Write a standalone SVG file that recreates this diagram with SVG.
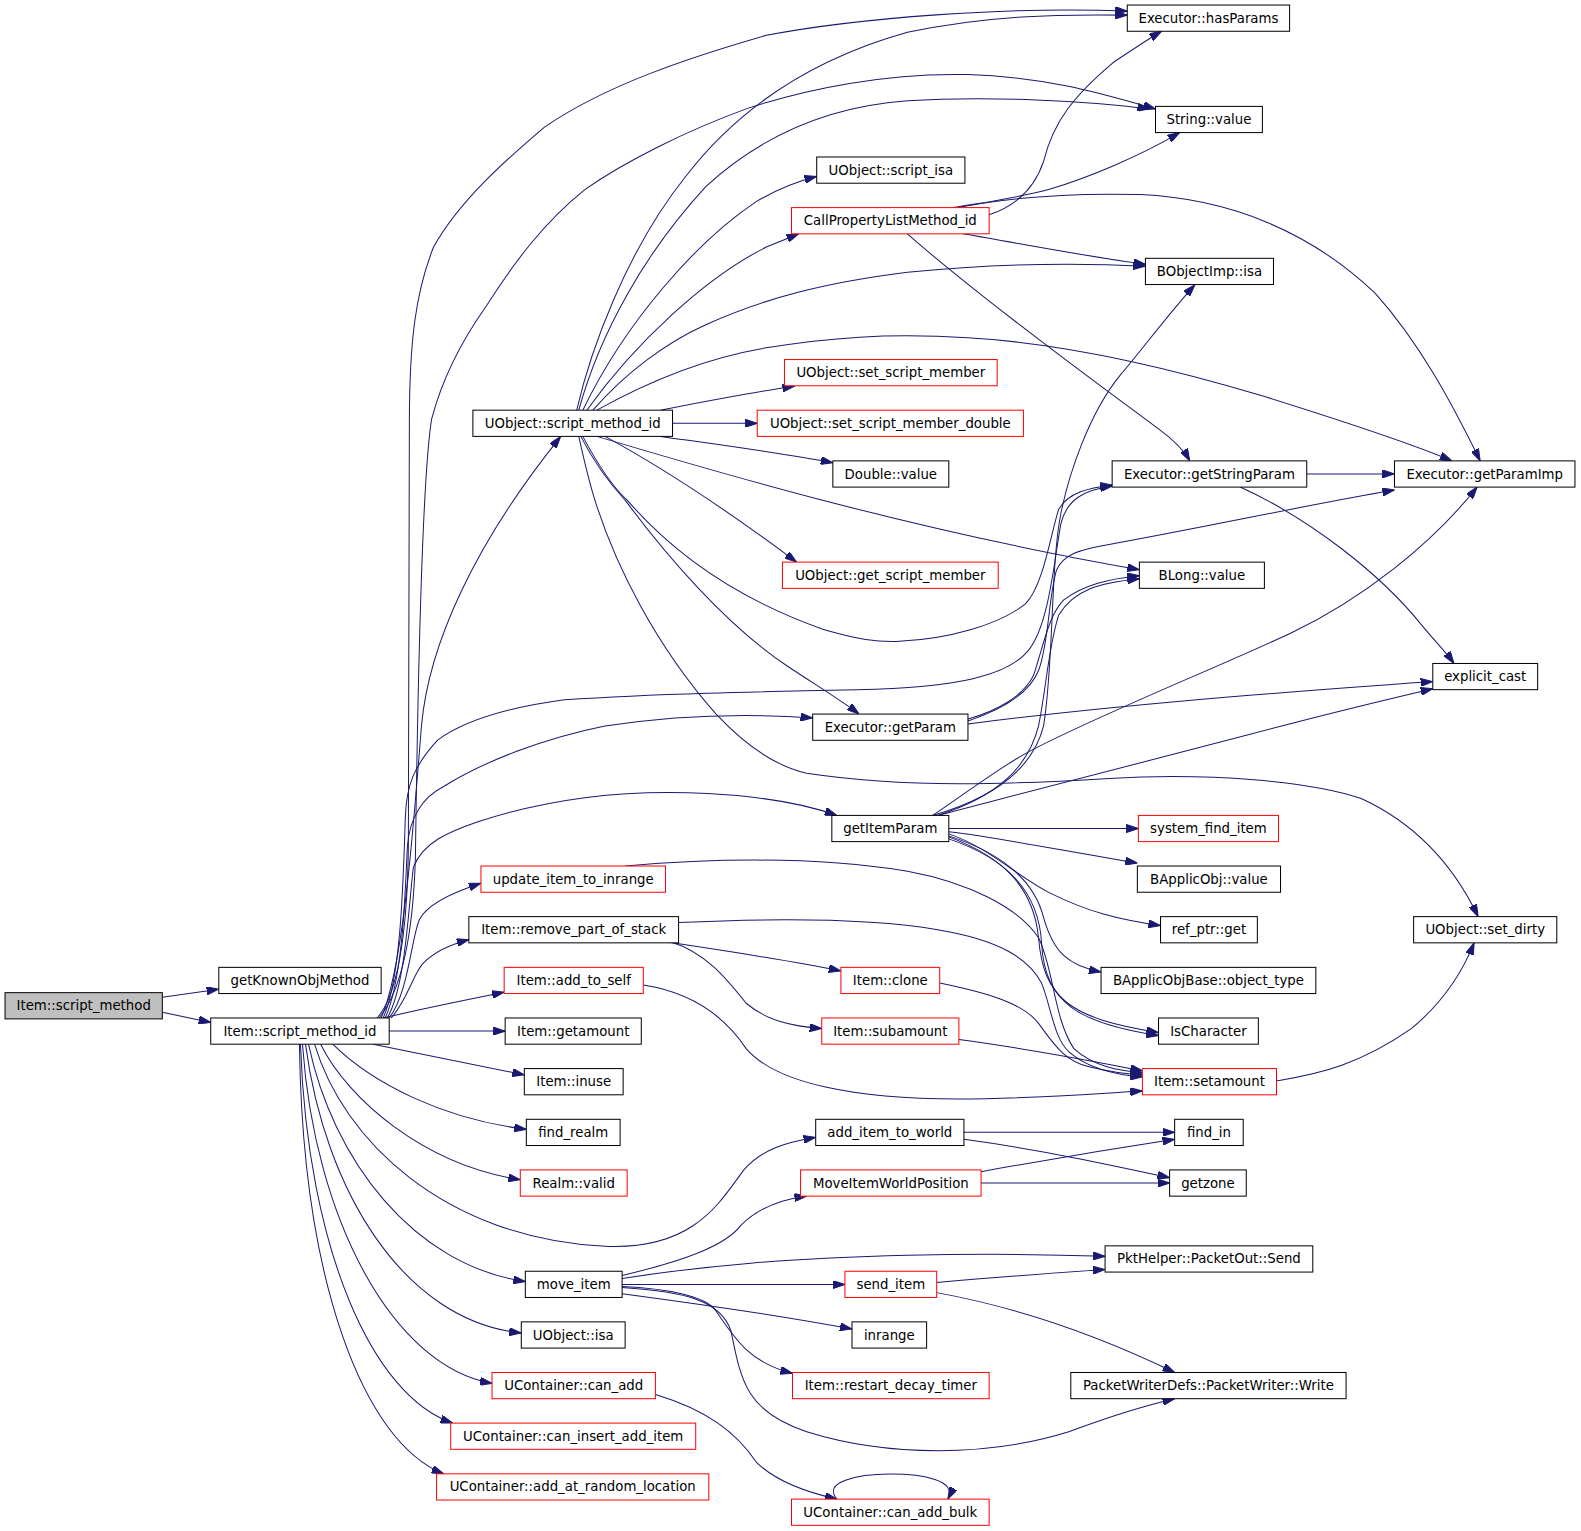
<svg xmlns="http://www.w3.org/2000/svg" width="1581" height="1531" viewBox="0 0 1581 1531">
<style>
.n rect{fill:#fff;stroke:#000;stroke-width:1}
.n.r rect{stroke:#f00}
.n.g rect{fill:#bfbfbf}
.n text{font-family:"DejaVu Sans","Liberation Sans",sans-serif;font-size:13.2px;text-anchor:middle;fill:#000}
#edges path{fill:none;stroke:#191970;stroke-width:1;marker-end:url(#ah)}
</style>
<defs>
<marker id="ah" markerWidth="12" markerHeight="8" refX="12" refY="4" orient="auto" markerUnits="userSpaceOnUse"><path d="M0,0 L12,4 L0,8 z" fill="#191970" stroke="#191970" stroke-width="1"/></marker>
</defs>
<rect x="0" y="0" width="1581" height="1531" fill="#fff"/>
<g transform="scale(1.00829)">
<g id="edges">
<path d="M161,989 L217,981"/>
<path d="M161,1004 L209,1014"/>
<path d="M386,1022.6 L501,1022.6"/>
<path d="M380,1009.6 C420,1000 460,992 500,984"/>
<path d="M370,1035.6 C420,1046 470,1056 520,1066"/>
<path d="M330,1035.6 C370,1075 440,1110 522,1120"/>
<path d="M318,1035.6 C345,1090 420,1155 516,1170"/>
<path d="M312,1035.6 C340,1130 440,1228 600,1236 C690,1240 715,1190 738,1160 C755,1140 780,1133 809,1128"/>
<path d="M306,1035.6 C330,1150 410,1255 521,1271"/>
<path d="M303,1035.6 C322,1180 400,1310 517,1322"/>
<path d="M300,1035.6 C312,1210 390,1355 488,1372"/>
<path d="M298,1035.6 C305,1240 370,1385 449,1411.4"/>
<path d="M297,1035.6 C300,1270 360,1430 440,1461.7"/>
<path d="M388,1009.6 C405,990 410,965 420,955 C430,945 445,937 465,932"/>
<path d="M386,1009.6 C405,985 408,930 416,912 C422,900 440,888 477,876"/>
<path d="M384,1009.6 C402,980 405,900 410,860 C420,835 445,825 474,815 C550,790 630,783 702,787 C760,790 800,798 830,808.7"/>
<path d="M382,1009.6 C400,970 402,880 404,840 C406,810 420,790 440,780 C480,755 540,732 600,720 C680,708 750,708 806,712"/>
<path d="M380,1009.6 C398,970 400,870 402,810 C403,780 410,760 434,734 C460,715 500,702 560,694 C650,688 750,686 850,684 C950,682 1000,670 1020,645 C1040,620 1045,560 1052,520 C1058,495 1075,486 1103,482"/>
<path d="M378,1009.6 C400,960 410,820 418,720 C425,640 470,540 556,433"/>
<path d="M376,1009.6 C400,980 410,920 412,850 C414,700 418,480 428,416 C440,370 460,335 482,304 C510,260 540,220 580,188 C620,160 680,130 740,108 C800,88 880,72 960,74 C1040,76 1100,95 1146,108"/>
<path d="M374,1009.6 C396,985 404,920 405,840 L406,420 C406,340 412,290 430,245 C455,200 500,160 540,126 C600,85 680,58 760,35 C850,18 1000,6 1118,11"/>
<path d="M572,406.8 C585,350 620,250 680,175 C730,110 800,60 900,32 C980,15 1050,14 1118,15"/>
<path d="M574,406.8 C595,330 640,250 700,185 C760,130 830,105 900,100 C980,95 1080,100 1140,108"/>
<path d="M578,406.8 C620,320 690,240 750,200 C770,188 790,180 810,175"/>
<path d="M582,406.8 C630,340 700,275 760,245 C772,240 782,236 792,232"/>
<path d="M588,406.8 C620,370 660,340 700,322 C760,295 820,280 900,270 C980,262 1060,260 1136,264"/>
<path d="M592,406.8 C640,380 700,355 760,345 C820,335 880,330 960,335 C1050,340 1150,362 1250,392 C1330,417 1400,440 1440,457.1"/>
<path d="M655,406.8 C700,398 740,390 788,383"/>
<path d="M667,419.8 L751,419.8"/>
<path d="M655,432.8 C720,442 780,450 826,459"/>
<path d="M600,432.8 C650,460 720,505 790,557.5"/>
<path d="M576,432.8 C590,460 605,480 620,496 C660,550 720,620 780,660 C810,680 835,695 852,708.2"/>
<path d="M578,432.8 C595,465 610,485 622,496 C660,540 720,590 816,624 C850,634 870,637 892,636 C940,634 990,620 1017,599 C1035,580 1042,530 1050,505 C1060,488 1080,484 1103,481"/>
<path d="M592,432.8 C700,465 900,525 1130,565"/>
<path d="M574,432.8 C580,460 585,480 590,496 C610,560 650,640 710,708 C740,740 770,760 800,767 C900,782 1000,778 1100,772 C1200,766 1300,775 1350,792 C1400,815 1440,855 1466,909.1"/>
<path d="M981,213 C1005,205 1025,190 1035,160 C1045,120 1065,95 1104,62 C1125,48 1140,38 1152,31"/>
<path d="M945,205.9 C980,200 1010,196 1040,188 C1080,176 1130,155 1170,131.5"/>
<path d="M950,205.9 C1000,196 1060,191 1131,193 C1220,197 1300,230 1364,291 C1408,340 1440,400 1468,457.1"/>
<path d="M955,231.9 C1020,243 1080,255 1136,262"/>
<path d="M900,231.9 C960,285 1060,360 1150,426 C1165,437 1175,448 1180,457.1"/>
<path d="M960,718 C1100,700 1250,688 1421,676"/>
<path d="M960,713 C990,705 1015,690 1025,670 C1035,640 1040,610 1055,595 C1075,580 1100,574 1130,571"/>
<path d="M960,715 C990,705 1020,690 1030,665 C1040,640 1040,590 1048,565 C1055,550 1070,545 1100,540 C1200,522 1300,500 1383,486"/>
<path d="M925,808.7 C960,785 1000,755 1031,740 C1100,705 1200,665 1280,628 C1350,595 1420,540 1465,483"/>
<path d="M930,808.7 C1000,790 1100,765 1237,729 C1300,712 1370,695 1421,683"/>
<path d="M941,821.7 L1129,821.7"/>
<path d="M941,825 C1000,832 1060,845 1128,856"/>
<path d="M941,827 C980,840 1010,870 1040,885 C1080,905 1110,912 1151,918"/>
<path d="M941,829 C990,845 1025,870 1035,910 C1045,945 1060,958 1092,964"/>
<path d="M941,830 C995,850 1025,880 1030,930 C1035,990 1060,1010 1149,1024"/>
<path d="M941,832 C1000,852 1030,885 1033,935 C1036,995 1070,1015 1149,1027"/>
<path d="M930,808.7 C990,790 1020,760 1030,720 C1038,680 1040,640 1050,610 C1065,585 1090,578 1130,574"/>
<path d="M925,808.7 C990,790 1025,760 1035,720 C1045,660 1042,560 1052,510 C1060,470 1080,410 1111,372 C1130,350 1160,310 1185,282.5"/>
<path d="M1296,470 L1383,470"/>
<path d="M1230,483 C1300,515 1370,570 1410,620 C1425,638 1435,648 1442,658"/>
<path d="M620,858.9 C700,852 800,848 900,864 C960,875 1010,900 1030,930 C1045,960 1045,1010 1065,1040 C1085,1058 1110,1062 1133,1064"/>
<path d="M673,915 C780,910 870,912 930,922 C990,932 1020,950 1033,975 C1043,1000 1045,1030 1061,1044 C1080,1060 1105,1066 1133,1068"/>
<path d="M660,934.1 C720,943 780,952 834,963"/>
<path d="M665,934.1 C700,945 720,970 740,995 C760,1012 785,1018 815,1020"/>
<path d="M638,977 C690,985 720,1010 740,1040 C770,1075 850,1090 950,1090 C1020,1090 1080,1085 1133,1082"/>
<path d="M932,975 C980,985 1015,995 1030,1015 C1045,1035 1055,1052 1080,1058 C1100,1063 1115,1065 1133,1066"/>
<path d="M951,1031 C1020,1040 1080,1052 1133,1062"/>
<path d="M1266,1072 C1310,1065 1350,1055 1400,1020 C1430,995 1450,965 1462,935.1"/>
<path d="M956,1123 L1165,1123"/>
<path d="M956,1130 C1030,1140 1100,1155 1160,1168"/>
<path d="M973,1162 C1040,1150 1100,1140 1165,1130"/>
<path d="M973,1173.3 L1160,1173.3"/>
<path d="M617,1265 C680,1250 720,1235 735,1215 C750,1200 770,1190 800,1186.3"/>
<path d="M617,1268 C700,1255 780,1248 900,1245 C980,1243 1040,1244 1096,1246"/>
<path d="M617,1274 L838,1274"/>
<path d="M617,1283 C700,1294 780,1306 845,1318"/>
<path d="M617,1276 C660,1278 700,1285 710,1300 C730,1330 745,1352 786,1362"/>
<path d="M617,1277 C680,1281 715,1290 725,1320 C735,1370 740,1400 800,1420 C880,1445 980,1445 1060,1420 C1100,1405 1140,1393 1165,1387.2"/>
<path d="M929,1272 C1000,1266 1050,1262 1096,1259"/>
<path d="M929,1282 C1000,1295 1080,1320 1165,1361.2"/>
<path d="M650,1383 C700,1398 730,1420 750,1450 C770,1470 800,1480 830,1486.8"/>
<path d="M830,1486.8 C815,1470 850,1462 883,1462 C915,1462 950,1468 940,1486.8"/>
</g>
<g id="A" class="n g"><rect x="5" y="984.5" width="156" height="26"/><text x="83" y="1002">Item::script_method</text></g>
<g id="B" class="n"><rect x="217" y="959.4" width="161" height="26"/><text x="297.5" y="976.9">getKnownObjMethod</text></g>
<g id="C" class="n"><rect x="209" y="1009.6" width="177" height="26"/><text x="297.5" y="1027.1">Item::script_method_id</text></g>
<g id="D" class="n"><rect x="469" y="406.8" width="198" height="26"/><text x="568" y="424.3">UObject::script_method_id</text></g>
<g id="E" class="n r"><rect x="477" y="858.9" width="183" height="26"/><text x="568.5" y="876.4">update_item_to_inrange</text></g>
<g id="F" class="n"><rect x="465" y="909.1" width="208" height="26"/><text x="569" y="926.6">Item::remove_part_of_stack</text></g>
<g id="G" class="n r"><rect x="500" y="959.4" width="138" height="26"/><text x="569" y="976.9">Item::add_to_self</text></g>
<g id="H" class="n"><rect x="501" y="1009.6" width="135" height="26"/><text x="568.5" y="1027.1">Item::getamount</text></g>
<g id="I" class="n"><rect x="520" y="1059.8" width="98" height="26"/><text x="569" y="1077.3">Item::inuse</text></g>
<g id="J" class="n"><rect x="522" y="1110.1" width="93" height="26"/><text x="568.5" y="1127.6">find_realm</text></g>
<g id="K" class="n r"><rect x="516" y="1160.3" width="106" height="26"/><text x="569" y="1177.8">Realm::valid</text></g>
<g id="L" class="n"><rect x="521" y="1260.8" width="96" height="26"/><text x="569" y="1278.3">move_item</text></g>
<g id="M" class="n"><rect x="517" y="1311" width="103" height="26"/><text x="568.5" y="1328.5">UObject::isa</text></g>
<g id="N" class="n r"><rect x="488" y="1361.2" width="162" height="26"/><text x="569" y="1378.7">UContainer::can_add</text></g>
<g id="O" class="n r"><rect x="447" y="1411.4" width="243" height="26"/><text x="568.5" y="1428.9">UContainer::can_insert_add_item</text></g>
<g id="P" class="n r"><rect x="433" y="1461.7" width="270" height="26"/><text x="568" y="1479.2">UContainer::add_at_random_location</text></g>
<g id="Q" class="n"><rect x="810" y="155.7" width="147" height="26"/><text x="883.5" y="173.2">UObject::script_isa</text></g>
<g id="R" class="n r"><rect x="785" y="205.9" width="196" height="26"/><text x="883" y="223.4">CallPropertyListMethod_id</text></g>
<g id="S" class="n r"><rect x="778" y="356.6" width="211" height="26"/><text x="883.5" y="374.1">UObject::set_script_member</text></g>
<g id="T" class="n r"><rect x="751" y="406.8" width="264" height="26"/><text x="883" y="424.3">UObject::set_script_member_double</text></g>
<g id="U" class="n"><rect x="826" y="457.1" width="115" height="26"/><text x="883.5" y="474.6">Double::value</text></g>
<g id="V" class="n r"><rect x="776" y="557.5" width="214" height="26"/><text x="883" y="575">UObject::get_script_member</text></g>
<g id="W" class="n"><rect x="806" y="708.2" width="154" height="26"/><text x="883" y="725.7">Executor::getParam</text></g>
<g id="X" class="n"><rect x="825" y="808.7" width="116" height="26"/><text x="883" y="826.2">getItemParam</text></g>
<g id="Y" class="n r"><rect x="834" y="959.4" width="98" height="26"/><text x="883" y="976.9">Item::clone</text></g>
<g id="Z" class="n r"><rect x="815" y="1009.6" width="136" height="26"/><text x="883" y="1027.1">Item::subamount</text></g>
<g id="AA" class="n"><rect x="809" y="1110.1" width="147" height="26"/><text x="882.5" y="1127.6">add_item_to_world</text></g>
<g id="AB" class="n r"><rect x="794" y="1160.3" width="179" height="26"/><text x="883.5" y="1177.8">MoveItemWorldPosition</text></g>
<g id="AC" class="n r"><rect x="838" y="1260.8" width="91" height="26"/><text x="883.5" y="1278.3">send_item</text></g>
<g id="AD" class="n"><rect x="845" y="1311" width="74" height="26"/><text x="882" y="1328.5">inrange</text></g>
<g id="AE" class="n r"><rect x="786" y="1361.2" width="195" height="26"/><text x="883.5" y="1378.7">Item::restart_decay_timer</text></g>
<g id="AF" class="n r"><rect x="785" y="1486.8" width="196" height="26"/><text x="883" y="1504.3">UContainer::can_add_bulk</text></g>
<g id="BA" class="n"><rect x="1118" y="5" width="161" height="26"/><text x="1198.5" y="22.5">Executor::hasParams</text></g>
<g id="BB" class="n"><rect x="1146" y="105.5" width="106" height="26"/><text x="1199" y="123">String::value</text></g>
<g id="BC" class="n"><rect x="1136" y="256.2" width="127" height="26"/><text x="1199.5" y="273.7">BObjectImp::isa</text></g>
<g id="BD" class="n"><rect x="1103" y="457.1" width="193" height="26"/><text x="1199.5" y="474.6">Executor::getStringParam</text></g>
<g id="BE" class="n"><rect x="1130" y="557.5" width="124" height="26"/><text x="1192" y="575">BLong::value</text></g>
<g id="BF" class="n r"><rect x="1129" y="808.7" width="139" height="26"/><text x="1198.5" y="826.2">system_find_item</text></g>
<g id="BG" class="n"><rect x="1128" y="858.9" width="142" height="26"/><text x="1199" y="876.4">BApplicObj::value</text></g>
<g id="BH" class="n"><rect x="1151" y="909.1" width="96" height="26"/><text x="1199" y="926.6">ref_ptr::get</text></g>
<g id="BI" class="n"><rect x="1092" y="959.4" width="213" height="26"/><text x="1198.5" y="976.9">BApplicObjBase::object_type</text></g>
<g id="BJ" class="n"><rect x="1149" y="1009.6" width="99" height="26"/><text x="1198.5" y="1027.1">IsCharacter</text></g>
<g id="BK" class="n r"><rect x="1133" y="1059.8" width="133" height="26"/><text x="1199.5" y="1077.3">Item::setamount</text></g>
<g id="BL" class="n"><rect x="1165" y="1110.1" width="68" height="26"/><text x="1199" y="1127.6">find_in</text></g>
<g id="BM" class="n"><rect x="1160" y="1160.3" width="76" height="26"/><text x="1198" y="1177.8">getzone</text></g>
<g id="BN" class="n"><rect x="1096" y="1235.6" width="206" height="26"/><text x="1199" y="1253.1">PktHelper::PacketOut::Send</text></g>
<g id="BO" class="n"><rect x="1062" y="1361.2" width="273" height="26"/><text x="1198.5" y="1378.7">PacketWriterDefs::PacketWriter::Write</text></g>
<g id="CA" class="n"><rect x="1383" y="457.1" width="179" height="26"/><text x="1472.5" y="474.6">Executor::getParamImp</text></g>
<g id="CB" class="n"><rect x="1421" y="658" width="104" height="26"/><text x="1473" y="675.5">explicit_cast</text></g>
<g id="CC" class="n"><rect x="1402" y="909.1" width="142" height="26"/><text x="1473" y="926.6">UObject::set_dirty</text></g>
</g>
</svg>
